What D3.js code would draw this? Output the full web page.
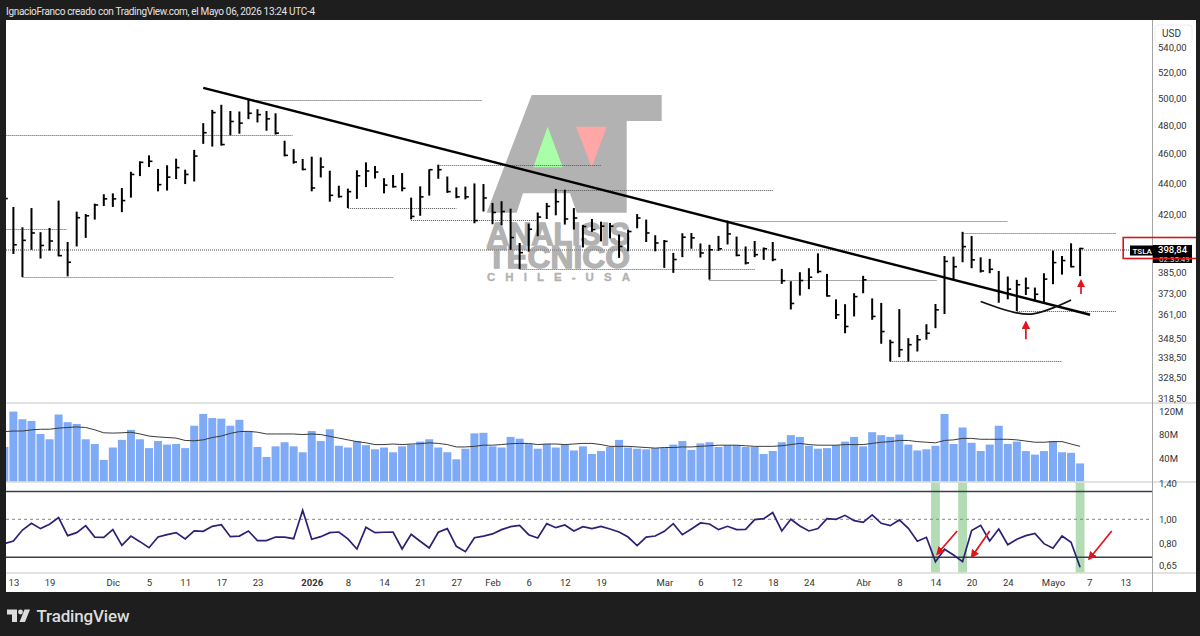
<!DOCTYPE html>
<html><head><meta charset="utf-8">
<style>html,body{margin:0;padding:0;background:#1e1e1e}svg{display:block}text{font-family:Roboto,"Open Sans",sans-serif}</style>
<script src="https://cdnjs.cloudflare.com/ajax/libs/d3/7.9.0/d3.min.js"></script>
</head><body><svg id="c" width="1200" height="636"></svg>
<script>
// HLC bars, first entry is bar index -1 (mostly hidden by the frame)
const highs=[435.8,424.6,411.8,423.9,408.8,411.4,428.7,402.8,421.6,420.1,426.7,432.8,433.4,436.9,447.7,454.8,458.9,449.6,452.1,456.6,449.1,462.7,481.7,491.4,495.2,490.6,490.2,498.9,491.9,490.6,488.9,469.1,463.2,456.4,458,457.5,448.4,438.4,436.5,448.7,454.1,451.6,443.4,445.5,446.8,430.6,438,449.3,452.5,444.5,437.3,437.8,439.9,439.5,427.2,428.3,423.5,402.2,414.1,421.1,427.2,436.3,435.8,423.9,413.3,417,415.3,414.5,407.3,410.4,420.1,416.6,406.9,404,396.2,408.1,408.3,401.9,401.1,406.5,416,406.1,400.1,403.4,399.5,402.8,386.8,379.7,384.9,387.2,396,383.9,369.5,366.8,372.9,382.8,370,367.5,347.7,364.1,348.5,350.2,355.9,366.9,394.4,394,409,406.4,393.6,392.7,385.6,382.4,380.5,381.8,376.1,384.3,397.6,394.4,402,399.3];
const lows=[398,395.6,382.1,398.1,392.9,397.6,394.2,382.5,400.1,405.3,416.6,425.2,424.6,421.3,430.6,444.8,450.9,434.7,435.2,442.8,439.5,441.2,466.9,465,465.7,472.9,474.1,484.6,482.2,476.2,473.5,458.2,453.2,448.7,434.7,443.9,428,430.6,423.9,429.8,437.5,443.2,433.4,437.1,434.7,416.8,419,431.9,443,433.7,430.2,429.5,414.3,421.7,413.7,413.1,398.1,386.8,397,406.3,417,419.3,413.5,410.4,399.5,409,403.2,405,393.3,397.2,411.2,402.8,397.2,387.4,384.5,393.7,398.7,393.5,380.6,397.4,401.3,394.2,389.4,393.7,392.1,391.3,378.2,363.9,371.6,375.2,384.3,371,358.7,351.1,360.1,372.9,358.3,345.6,336.5,338.7,336.5,341.6,347.7,353.8,361.4,380.9,390.7,387.2,384.7,384.3,367.6,369.5,363,371.9,369.1,367.6,378,383.5,387.7,382.6];
const closes=[430,401.1,403.8,408.3,400.7,403.4,394.6,390.7,417.8,419,425.9,429.8,429.8,428.7,445.9,454.1,454.8,439.1,444.1,450.5,445.9,458.4,474.8,489.4,466.4,482.9,481.7,488.9,487.9,484.8,474.5,458.9,454.3,449.3,436.9,450.9,432.1,431.3,434.5,445,448.2,447.5,438.8,437.8,436.7,418.6,431.1,449.1,449.1,434.5,431.1,431.1,416,430.4,421.1,421.7,405.5,396.4,410.6,418.2,425,428,417,417.6,412.3,410.4,412.5,412.5,400.1,409.2,417.6,408.3,402.2,403.2,392.3,405.7,405.3,396.2,398.1,398.7,407.7,394.8,390.3,395.2,398.7,392.3,380,367.2,380.1,382,385.3,371.4,361,354.7,371,380.5,360.1,352,346.3,342.5,345.1,347.7,351.1,363.7,391.2,388.1,400,392.1,385.6,386.6,373.8,375.2,377.7,375.8,372.3,380.9,390.5,391.7,388.1,398.84];
const volumes=[59,119,106,103,81,72,114,101,98,72,64,37,58,71,88,72,57,69,63,64,57,95,115,108,107,95,105,86,59,42,60,67,60,50,86,69,89,61,58,69,62,55,58,50,60,63,68,72,58,50,38,56,82,83,60,58,76,73,64,56,64,58,63,53,60,47,52,59,71,58,56,55,57,57,63,69,54,65,67,59,62,62,59,59,47,52,67,79,76,61,56,57,62,68,76,60,84,79,76,80,63,53,55,61,115,64,92,66,52,63,95,64,68,52,46,52,69,50,49,31];
const volumeMA=[85,86,86,88,89,89,91,92,93,92,88,83,82.5,83,84,81,77.5,76,75,74,70,69.5,71,75,77.5,82,85,85.5,84,81,81,81,81,80,81,80,77,74,71,68,66,63,63,64,63,64,64.5,66,65,63,59,59,60,62,62,63,64.5,65,65,63,64,64,63,64,65,65,63,60,60,60,59,58,57,58,58,59,59,60,61,62,62,62,61,60,60,60,61,63,65,63,62,62,62,63,63,63,65,67,68,70,70,68,67,66,70,71,73.5,73.5,72,72,72,72,71,69,67,67,68,68,64,60];
const ratio=[.795,.815,.904,.963,.916,.954,1.016,.857,.882,.942,.846,.844,.907,.782,.854,.81,.765,.846,.865,.882,.831,.896,.893,.936,.951,.849,.854,.896,.818,.818,.846,.846,.833,1.089,.828,.849,.882,.887,.831,.756,.927,.882,.885,.887,.756,.868,.813,.763,.885,.916,.775,.737,.841,.854,.871,.907,.933,.945,.865,.838,.96,.924,.948,.896,.933,.916,.936,.913,.887,.846,.78,.846,.854,.893,.96,.865,.913,.966,.957,.907,.936,.907,.91,.997,1.006,1.065,.896,1,.939,.896,.916,1.006,1,1.038,.987,.972,1.042,.963,.942,.994,.918,.813,.844,.671,.754,.714,.671,.899,.945,.815,.913,.787,.828,.857,.876,.795,.761,.854,.805,.636];
const priceTicks=[540,520,500,480,460,440,420,385,373,361,348.5,338.5,328.5,318.5];
const volumeTicks=[120,80,40];
const ratioTicks=[1.4,1,.8,.65];
const ratioBands=[.7,1.3];
const timeTickIndex=[0,4,11,15,19,23,27,33,37,41,45,49,53,57,61,65,72,76,80,84,88,94,98,102,106,110,115,119,123];
const timeTickLabels=["13","19","Dic","5","11","17","23","2026","8","14","21","27","Feb","6","12","19","Mar","6","12","18","24","Abr","8","14","20","24","Mayo","7","13"];
// dotted level lines: price, first bar, last bar
const levels=[[498.5,26,51.8],[473,-1,30.9],[410.8,-1,5.9],[382.3,1,42],[423.9,37,49],[452,47,65],[435.8,60,84],[416.6,44,58],[386.8,56,82],[380.6,77,102.2],[416,79,110],[408,105,122],[336.5,97,116],[363,111,122]];
const lastPriceLevel=398;
const lastPriceLabel=398.84;
const trend=[[21,508],[119.1,361]];
const cup=[[107,368.3],[111,362],[112.8,361.5],[115.4,365.5],[117,369.1]];
const upArrows=[[112,348,357],[118.1,372.5,380]];
const ratioArrows=[[104.4,.896,102.2,.721],[108,.896,106,.701],[121.5,.896,119,.688]];
const highlightBars=[102,105,118];

const svg=d3.select("#c");
const F="#1e1e1e";
svg.append("rect").attr("width",1200).attr("height",636).attr("fill",F);
svg.append("rect").attr("x",6).attr("y",20).attr("width",1190).attr("height",572).attr("fill","#fff");

const x=d3.scaleLinear().domain([0,123]).range([13.4,1125.3]);
const y=d3.scaleLog().domain([318.5,520]).range([398,72.3]);
const yV=d3.scaleLinear().domain([0,120]).range([481.7,411]);
const yR=d3.scaleLog().domain([.65,1]).range([565,519.3]);
const idx=highs.map((_,i)=>i-1);

// watermark
const logo=svg.append("g");
const wm="#b2b2b2";
logo.append("polygon").attr("fill",wm).attr("points","531.7,95 661.7,95 661.7,121 626.7,121 626.7,212.7 576.7,212.7 570,193.3 523,193.3 516.7,212.7 486.7,212.7");
logo.append("polygon").attr("fill","#a8ffa8").attr("points","547.7,126.7 533.3,167.3 562.7,167.3");
logo.append("polygon").attr("fill","#ffa6a6").attr("points","576,126.7 606.7,126.7 591.7,167.3");
[["ANALISIS",245,32,143,1.3],["TECNICO",268,32,143,1.3],["CHILE-USA",281,11.5,143,.3]].forEach(d=>{
  logo.append("text").text(d[0]).attr("x",487).attr("y",d[1]).attr("font-size",d[2]).attr("font-weight",700)
   .attr("fill",wm).attr("stroke",wm).attr("stroke-width",d[4]).attr("textLength",d[3]).attr("lengthAdjust",d[2]<20?"spacing":"spacingAndGlyphs").style("font-family","'Liberation Sans',sans-serif");
});

// level lines
svg.append("g").selectAll("line").data(levels).join("line")
 .attr("x1",d=>x(d[1])).attr("x2",d=>x(d[2])).attr("y1",d=>Math.round(y(d[0]))+.5).attr("y2",d=>Math.round(y(d[0]))+.5)
 .attr("stroke","#555").attr("stroke-width",1).attr("stroke-dasharray","1 1");
svg.append("line").attr("x1",6).attr("x2",1152).attr("y1",y(lastPriceLevel)).attr("y2",y(lastPriceLevel))
 .attr("stroke","#888").attr("stroke-width",1.5).attr("stroke-dasharray","1 1");

// HLC bars
const bars=svg.append("g").attr("stroke","#000").attr("stroke-width",2);
bars.selectAll(".hl").data(idx).join("line").attr("x1",i=>x(i)).attr("x2",i=>x(i))
 .attr("y1",i=>y(highs[i+1])).attr("y2",i=>y(lows[i+1]));
bars.selectAll(".cl").data(idx).join("line").attr("x1",i=>x(i)).attr("x2",i=>x(i)+3.4)
 .attr("y1",i=>y(closes[i+1])).attr("y2",i=>y(closes[i+1])).attr("stroke-width",1.6);

// trend line and cup
svg.append("line").attr("x1",x(trend[0][0])).attr("y1",y(trend[0][1])).attr("x2",x(trend[1][0])).attr("y2",y(trend[1][1]))
 .attr("stroke","#000").attr("stroke-width",2.4);
svg.append("path").attr("fill","none").attr("stroke","#111").attr("stroke-width",1.7)
 .attr("d",d3.line().x(d=>x(d[0])).y(d=>y(d[1])).curve(d3.curveCatmullRom)(cup));

// red arrows
const defs=svg.append("defs");
defs.append("marker").attr("id","ah").attr("viewBox","0 0 10 10").attr("refX",8).attr("refY",5)
 .attr("markerWidth",5).attr("markerHeight",5).attr("orient","auto")
 .append("path").attr("d","M0,0L10,5L0,10Z").attr("fill","#e0141c");
const arrow=(g,a,b,c,e)=>g.append("line").attr("x1",a).attr("y1",b).attr("x2",c).attr("y2",e)
 .attr("stroke","#e0141c").attr("stroke-width",1.7).attr("marker-end","url(#ah)");
upArrows.forEach(d=>arrow(svg,x(d[0]),y(d[1]),x(d[0]),y(d[2])));

// volume pane
svg.append("g").selectAll("rect").data(idx).join("rect")
 .attr("x",i=>x(i)-4).attr("width",8).attr("y",i=>yV(volumes[i+1])).attr("height",i=>yV(0)-yV(volumes[i+1])).attr("fill","#7eaaf6");
svg.append("path").attr("fill","none").attr("stroke","#3a3a3a").attr("stroke-width",1)
 .attr("d",d3.line().x(i=>x(i)).y(i=>yV(volumeMA[i+1]))(idx));

// separators
[403,482,573].forEach(v=>svg.append("line").attr("x1",6).attr("x2",1196).attr("y1",v).attr("y2",v).attr("stroke","#d8d8d8").attr("stroke-width",1.6));

// ratio pane
svg.append("g").selectAll("rect").data(highlightBars).join("rect")
 .attr("x",i=>x(i)-4.4).attr("width",8.8).attr("y",482.8).attr("height",89.6).attr("fill","#b4dcb4");
ratioBands.forEach(v=>svg.append("line").attr("x1",6).attr("x2",1152).attr("y1",yR(v)).attr("y2",yR(v)).attr("stroke","#3a3f4a").attr("stroke-width",1.5));
svg.append("line").attr("x1",6).attr("x2",1152).attr("y1",yR(1)).attr("y2",yR(1)).attr("stroke","#888").attr("stroke-width",1).attr("stroke-dasharray","3 3");
svg.append("path").attr("fill","none").attr("stroke","#2b2176").attr("stroke-width",1.7)
 .attr("d",d3.line().x(i=>x(i)).y(i=>yR(ratio[i+1]))(idx));
ratioArrows.forEach(d=>arrow(svg,x(d[0]),yR(d[1]),x(d[2]),yR(d[3])));

// axes
function style(g,size,col){g.select(".domain").remove();g.selectAll(".tick line").remove();
 g.selectAll("text").attr("font-size",size).attr("fill",col||"#333").style("font-family","Roboto,sans-serif");}
const comma=v=>v.toFixed(2).replace(".",",");
svg.append("g").attr("transform","translate(1153,0)")
 .call(d3.axisRight(y).tickValues(priceTicks).tickFormat(comma).tickSize(0).tickPadding(5)).call(style,9.5);
svg.append("g").attr("transform","translate(1153,0)")
 .call(d3.axisRight(yV).tickValues(volumeTicks).tickFormat(d=>d+"M").tickSize(0).tickPadding(6)).call(style,9.5);
svg.append("g").attr("transform","translate(1153,0)")
 .call(d3.axisRight(yR).tickValues(ratioTicks).tickFormat(comma).tickSize(0).tickPadding(6)).call(style,9.5);
svg.append("line").attr("x1",1152.5).attr("x2",1152.5).attr("y1",20).attr("y2",592).attr("stroke","#a5a5a5").attr("stroke-width",1);
const tx=svg.append("g").attr("transform","translate(0,576)")
 .call(d3.axisBottom(x).tickValues(timeTickIndex).tickFormat((d,i)=>timeTickLabels[i]).tickSize(0).tickPadding(3)).call(style,9.5);
tx.selectAll(".tick text").filter((d,i)=>timeTickLabels[i]=="2026").attr("font-weight",700);

// USD box
svg.append("rect").attr("x",1155).attr("y",25).attr("width",37).attr("height",18).attr("rx",3).attr("fill","#fff").attr("stroke","#eee");
svg.append("text").text("USD").attr("x",1162).attr("y",37).attr("font-size",10).attr("fill","#333");

// last price label
svg.append("rect").attr("x",1130).attr("y",245.5).attr("width",23).attr("height",10).attr("fill","#000");
svg.append("text").text("TSLA").attr("x",1132.5).attr("y",253.5).attr("font-size",8).attr("font-weight",500).attr("fill","#fff");
svg.append("rect").attr("x",1153).attr("y",245).attr("width",39).attr("height",18).attr("fill","#000");
svg.append("text").text(comma(lastPriceLabel)).attr("x",1158).attr("y",253).attr("font-size",9.5).attr("font-weight",500).attr("fill","#fff");
svg.append("text").text("02:35:49").attr("x",1159).attr("y",261.5).attr("font-size",8).attr("fill","#ddd");
svg.append("rect").attr("x",1123.2).attr("y",237.5).attr("width",73.5).attr("height",21).attr("fill","none").attr("stroke","#d8141c").attr("stroke-width",1.6);

// frame
svg.append("rect").attr("width",1200).attr("height",20).attr("fill",F);
svg.append("rect").attr("width",6).attr("height",636).attr("fill",F);
svg.append("rect").attr("y",592).attr("width",1200).attr("height",44).attr("fill",F);
svg.append("rect").attr("x",1196).attr("width",4).attr("height",636).attr("fill",F);
svg.append("text").text("IgnacioFranco creado con TradingView.com, el Mayo 06, 2026 13:24 UTC-4")
 .attr("x",6).attr("y",14.5).attr("font-size",10).attr("fill","#e4e4e4").attr("textLength",309);

// footer brand
const b=svg.append("g").attr("fill","#dcdcdc");
b.append("path").attr("d","M7,609.5H17V622H12V614.5H7Z");
b.append("circle").attr("cx",20.5).attr("cy",612).attr("r",2.4);
b.append("path").attr("d","M24.5,609.5H30L25,622H19.5Z");
b.append("text").text("TradingView").attr("x",36.5).attr("y",621.5).attr("font-size",17).attr("font-weight",500).attr("textLength",93);
</script></body></html>
